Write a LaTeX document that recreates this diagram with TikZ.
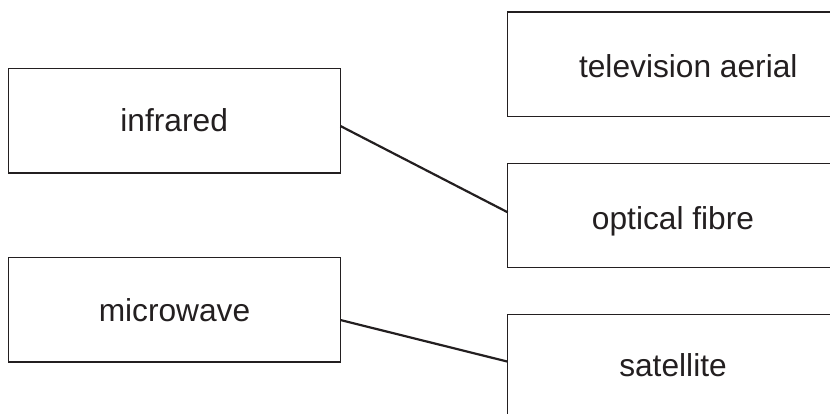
\documentclass[tikz,border=0pt]{standalone}
\usepackage{fontspec}
\setmainfont{Liberation Sans}
\definecolor{ink}{HTML}{231F20}
\begin{document}
\begin{tikzpicture}[x=1pt,y=-1pt,
  box/.style={draw=ink,line width=1.2pt,inner sep=0pt,outer sep=0pt,rectangle},
  lbl/.style={inner sep=0pt,anchor=base,text=ink,font=\fontsize{31.7}{38}\selectfont},
  link/.style={draw=ink,line width=2.2pt}]
\useasboundingbox (0,0) rectangle (830,414);
\clip (0,0) rectangle (830,414);
% left boxes
\node[box,minimum width=332pt,minimum height=104.3pt] (ir) at (174.5,120.85) {};
\node[box,minimum width=332pt,minimum height=104.3pt] (mw) at (174.5,309.85) {};
% right boxes (extend beyond right edge)
\node[box,minimum width=370pt,minimum height=104.3pt] (tv) at (692.7,64.15) {};
\node[box,minimum width=370pt,minimum height=104pt] (of) at (692.7,215.3) {};
\node[box,minimum width=370pt,minimum height=105.7pt] (sa) at (692.7,367.15) {};
% labels
\node[lbl] (irl) at (174.2,131.7) {infrared};
\node[lbl] (mwl) at (174.5,321.7) {microwave};
\node[lbl] (tvl) at (688.3,77.3) {television aerial};
\node[lbl] (ofl) at (673,229.3) {optical fibre};
\node[lbl] (sal) at (673,376.7) {satellite};
% connectors
\draw[link] ([yshift=-5.2pt]ir.east) -- ([yshift=3pt]of.west);
\draw[link] ([yshift=-10.2pt]mw.east) -- ([yshift=5.5pt]sa.west);
\end{tikzpicture}
\end{document}
